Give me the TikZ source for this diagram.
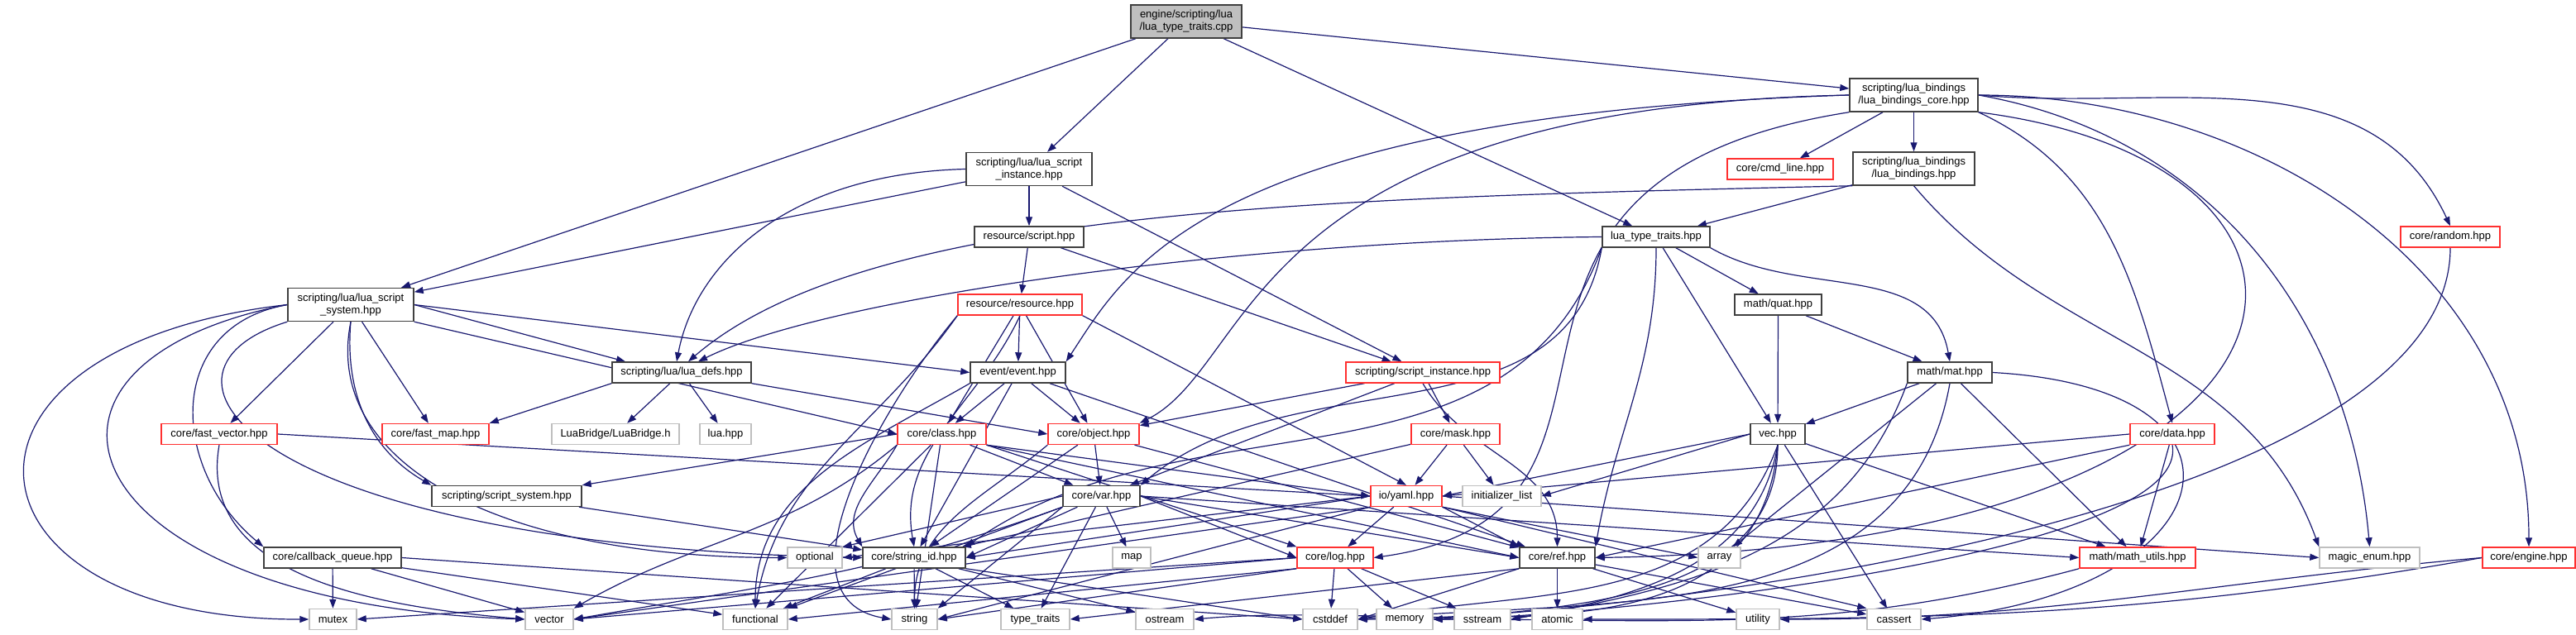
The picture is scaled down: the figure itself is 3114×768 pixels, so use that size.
\documentclass[tikz,border=0pt]{standalone}
\usepackage{fontspec}
\setmainfont{Liberation Sans}
\usetikzlibrary{arrows.meta}
\definecolor{edgec}{HTML}{191970}
\definecolor{grayb}{HTML}{BFBFBF}
\definecolor{darkb}{HTML}{404040}
\definecolor{redb}{HTML}{FF3030}
\newdimen\pxu \pxu=0.25pt
\pgfdeclarelayer{bg}
\pgfsetlayers{bg,main}
\begin{document}
\begin{tikzpicture}[x=0.25pt,y=0.25pt,
  box/.style={draw=darkb, line width=0.36pt, fill=white, inner sep=0pt, minimum height=25\pxu, align=center, font=\fontsize{3.25}{3.75}\selectfont},
  rb/.style={box, draw=redb},
  gb/.style={box, draw=grayb},
  two/.style={minimum height=40\pxu},
  e/.style={draw=edgec, line width=0.3pt, -{Triangle[length=2.75pt,width=2pt]}},
]
\useasboundingbox (0,0) rectangle (3114,-768);
% row 0-4
\node[box, two, fill=grayb, minimum width=134\pxu] (main) at (1434,-26) {engine/scripting/lua\\/lua\_type\_traits.cpp};
\node[box, two, minimum width=155\pxu] (lbc) at (2313.5,-115) {scripting/lua\_bindings\\/lua\_bindings\_core.hpp};
\node[box, two, minimum width=152\pxu] (lsi) at (1244,-204.5) {scripting/lua/lua\_script\\\_instance.hpp};
\node[rb, minimum width=128\pxu] (cmd) at (2152,-204.5) {core/cmd\_line.hpp};
\node[box, two, minimum width=147\pxu] (lb) at (2313.5,-204) {scripting/lua\_bindings\\/lua\_bindings.hpp};
\node[box, minimum width=132\pxu] (script) at (1244,-286.5) {resource/script.hpp};
\node[box, minimum width=130\pxu] (ltt) at (2002,-286.5) {lua\_type\_traits.hpp};
\node[rb, minimum width=120\pxu] (random) at (2962,-286.5) {core/random.hpp};
\node[box, two, minimum width=152\pxu] (lss) at (424,-368.5) {scripting/lua/lua\_script\\\_system.hpp};
\node[rb, minimum width=150\pxu] (resource) at (1233,-368.5) {resource/resource.hpp};
\node[box, minimum width=105\pxu] (quat) at (2149.5,-368.5) {math/quat.hpp};
% row 5
\node[box, minimum width=168\pxu] (defs) at (824,-450.5) {scripting/lua/lua\_defs.hpp};
\node[box, minimum width=115\pxu] (event) at (1230.5,-450.5) {event/event.hpp};
\node[rb, minimum width=186\pxu] (si) at (1720,-450.5) {scripting/script\_instance.hpp};
\node[box, minimum width=102\pxu] (mat) at (2357,-450.5) {math/mat.hpp};
% row 6
\node[rb, minimum width=140\pxu] (fvec) at (265,-525) {core/fast\_vector.hpp};
\node[rb, minimum width=129\pxu] (fmap) at (526.5,-525) {core/fast\_map.hpp};
\node[gb, minimum width=154\pxu] (luabridge) at (744,-525) {LuaBridge/LuaBridge.h};
\node[gb, minimum width=62\pxu] (luahpp) at (877,-525) {lua.hpp};
\node[rb, minimum width=107\pxu] (class) at (1138.5,-525) {core/class.hpp};
\node[rb, minimum width=110\pxu] (object) at (1322,-525) {core/object.hpp};
\node[rb, minimum width=107\pxu] (mask) at (1759.5,-525) {core/mask.hpp};
\node[box, minimum width=66\pxu] (vec) at (2149,-525) {vec.hpp};
\node[rb, minimum width=102\pxu] (data) at (2626,-525) {core/data.hpp};
% row 7
\node[box, minimum width=181\pxu] (ss) at (612.5,-600) {scripting/script\_system.hpp};
\node[box, minimum width=93\pxu] (var) at (1331.5,-600) {core/var.hpp};
\node[rb, minimum width=86\pxu] (yaml) at (1700,-600) {io/yaml.hpp};
\node[gb, minimum width=95\pxu] (il) at (1815.5,-600) {initializer\_list};
% row 8
\node[box, minimum width=166\pxu] (cq) at (402,-674.5) {core/callback\_queue.hpp};
\node[gb, minimum width=66\pxu] (optional) at (985,-674.5) {optional};
\node[box, minimum width=124\pxu] (sid) at (1105,-674.5) {core/string\_id.hpp};
\node[gb, minimum width=46\pxu] (map) at (1368,-674.5) {map};
\node[rb, minimum width=92\pxu] (log) at (1614,-674.5) {core/log.hpp};
\node[box, minimum width=91\pxu] (ref) at (1882.5,-674.5) {core/ref.hpp};
\node[gb, minimum width=51\pxu] (array) at (2078.5,-674.5) {array};
\node[rb, minimum width=140\pxu] (mu) at (2584,-674.5) {math/math\_utils.hpp};
\node[gb, minimum width=121\pxu] (me) at (2864.5,-674.5) {magic\_enum.hpp};
\node[rb, minimum width=112\pxu] (engine) at (3057,-674.5) {core/engine.hpp};
% row 9
\node[gb, minimum width=57\pxu] (mutex) at (402.5,-749) {mutex};
\node[gb, minimum width=58\pxu] (vector) at (664,-749) {vector};
\node[gb, minimum width=78\pxu] (functional) at (913,-749) {functional};
\node[gb, minimum width=55\pxu] (string) at (1105.5,-749) {string};
\node[gb, minimum width=83\pxu] (typetraits) at (1251.5,-749) {type\_traits};
\node[gb, minimum width=70\pxu] (ostream) at (1408,-749) {ostream};
\node[gb, minimum width=66\pxu] (cstddef) at (1608,-749) {cstddef};
\node[gb, minimum width=68\pxu] (memory) at (1698,-749) {memory};
\node[gb, minimum width=68\pxu] (sstream) at (1792,-749) {sstream};
\node[gb, minimum width=61\pxu] (atomic) at (1882.5,-749) {atomic};
\node[gb, minimum width=52\pxu] (utility) at (2125,-749) {utility};
\node[gb, minimum width=65\pxu] (cassert) at (2289.5,-749) {cassert};

\begin{pgfonlayer}{bg}
% main
\draw[e] (main) -- (lss);
\draw[e] (main) -- (lsi);
\draw[e] (main) -- (ltt);
\draw[e] (main) -- (lbc);
% lbc
\draw[e] (lbc) -- (cmd);
\draw[e] (lbc) -- (lb);
\draw[e] (lbc.east) to[out=-5,in=115] (random.north);
\draw[e] (lbc.east) to[out=0,in=90] (engine.north);
\draw[e] (lbc.east) to[out=-10,in=95] (me.north);
\draw[e] (lbc.south east) to[out=-25,in=105] (data.north);
\draw[e] (lbc.south east) .. controls (2900,-200) and (2850,-660) .. (ref.east);
\draw[e] (lbc.west) .. controls (1450,-140) and (1360,-330) .. (event.north east);
\draw[e] (lbc.west) .. controls (1500,-130) and (1520,-440) .. (object.north east);
\draw[e] (lbc.south west) .. controls (1700,-220) and (2050,-620) .. (log.east);
% lb
\draw[e] (lb) -- (ltt);
\draw[e] (lb.south west) .. controls (1600,-240) and (1050,-250) .. ([xshift=2pt]defs.north);
\draw[e] (lb.south) to[out=-50,in=110] (me.north west);
% lsi
\draw[e] (lsi) -- (lss);
\draw[e] (lsi.west) .. controls (950,-210) and (840,-320) .. ([xshift=-1.5pt]defs.north);
\draw[e] (lsi) -- (script);
\draw[e] (lsi) -- (si);
% script
\draw[e] (script) -- (resource);
\draw[e] (script) -- (si);
% ltt
\draw[e] (ltt.west) .. controls (1500,-290) and (1000,-360) .. ([xshift=5pt]defs.north);
\draw[e] (ltt) -- (quat);
\draw[e] (ltt.south east) to[out=-30,in=100] (mat.north);
\draw[e] (ltt) -- (vec);
\draw[e] (ltt.south) to[out=-90,in=80] (ref.north east);
\draw[e] (ltt.south west) to[out=-100,in=40] (var.north east);
\draw[e] (ltt.south west) to[out=-110,in=35] (sid.north east);
% lss
\draw[e] (lss) -- (fvec);
\draw[e] (lss) -- (fmap);
\draw[e] (lss.west) to[out=190,in=140,looseness=1.3] (cq.north west);
\draw[e] (lss.west) .. controls (-100,-420) and (-60,-750) .. (mutex.west);
\draw[e] (lss.west) .. controls (-20,-440) and (80,-730) .. (vector.west);
\draw[e] (lss.east) -- ([xshift=-17pt]defs.north);
\draw[e] (lss.east) -- (event.west);
\draw[e] (lss.south east) -- (class.west);
\draw[e] (lss.south) to[out=-95,in=150] (ss.north west);
\draw[e] (lss.south west) .. controls (150,-450) and (300,-660) .. (sid.west);
\draw[e] (lss.south) .. controls (390,-560) and (600,-674) .. (optional.west);
% defs
\draw[e] (defs) -- (luabridge);
\draw[e] (defs) -- (luahpp);
\draw[e] (defs.south west) -- (fmap.north east);
\draw[e] (defs.south east) -- (object.west);
% resource
\draw[e] (resource) -- (event);
\draw[e] (resource) -- (class);
\draw[e] (resource) -- (object);
\draw[e] (resource.south) to[out=-115,in=100] (sid.north);
\draw[e] (resource.south east) -- (yaml.north);
\draw[e] (resource.south west) to[out=-130,in=170] (string.west);
\draw[e] (resource.south west) to[out=-125,in=80] (functional.north);
% event
\draw[e] (event) -- (class);
\draw[e] (event) -- (object);
\draw[e] (event) -- (sid);
\draw[e] (event) -- (ref);
\draw[e] (event.south west) to[out=-150,in=90] (functional.north);
% si
\draw[e] (si) -- (object);
\draw[e] (si) -- (var);
\draw[e] (si) -- (mask);
\draw[e] (si.south) to[out=-60,in=90] (ref.north);
% mask
\draw[e] (mask) -- (yaml);
\draw[e] (mask) -- (il);
\draw[e] (mask) -- (sid);
% class
\draw[e] (class) -- (var);
\draw[e] (class.south west) to[out=-120,in=120] (sid.north west);
\draw[e] (class) -- (string);
\draw[e] (class) -- (functional);
\draw[e] (class.south west) to[out=-140,in=30] (vector.north east);
\draw[e] (class.south east) -- (yaml.west);
\draw[e] (class.south east) -- (ref.west);
\draw[e] (class.south east) -- (log.north west);
\draw[e] (class.west) -- (ss.north east);
% object
\draw[e] (object) -- (var);
\draw[e] (object) -- (sid);
\draw[e] (object) -- (ref);
\draw[e] (object.south west) to[out=-140,in=90] (string.north);
% var
\draw[e] (var) -- (sid.east);
\draw[e] (var) -- (map);
\draw[e] (var) -- (typetraits);
\draw[e] (var.south west) -- (string.north east);
\draw[e] (var.south west) -- (functional.north east);
\draw[e] (var.south west) to[out=-160,in=10] (vector.east);
\draw[e] (var.west) -- (optional.north east);
\draw[e] (var.east) -- (ref.west);
\draw[e] (var.east) -- (mu.west);
\draw[e] (var.east) -- (log.west);
% yaml
\draw[e] (yaml) -- (log);
\draw[e] (yaml.west) -- (sid.east);
\draw[e] (yaml.south west) -- (string.east);
\draw[e] (yaml.south west) -- (vector.east);
\draw[e] (yaml.south east) -- (array.west);
\draw[e] (yaml.south east) -- (cassert.north west);
\draw[e] (yaml.east) -- (me.west);
\draw[e] (yaml.south east) -- (ref.north west);
\draw[e] (yaml.west) -- (optional.east);
% log
\draw[e] (log) -- (cstddef);
\draw[e] (log) -- (memory);
\draw[e] (log) -- (sstream);
\draw[e] (log.south west) -- (string.east);
\draw[e] (log.west) -- (mutex.east);
\draw[e] (log.west) -- (vector.east);
\draw[e] (log.south west) -- (functional.east);
% ref
\draw[e] (ref) -- (atomic);
\draw[e] (ref) -- (utility);
\draw[e] (ref) -- (cassert);
\draw[e] (ref.south west) -- (cstddef.east);
\draw[e] (ref.south west) -- (typetraits.east);
% sid
\draw[e] (sid) -- (string);
\draw[e] (sid) -- (functional);
\draw[e] (sid) -- (typetraits);
\draw[e] (sid) -- (ostream);
\draw[e] (sid.south east) -- (cstddef.west);
% cq
\draw[e] (cq) -- (mutex);
\draw[e] (cq) -- (vector);
\draw[e] (cq) -- (functional);
\draw[e] (cq.east) -- (cstddef.west);
% fvec
\draw[e] (fvec.south) to[out=-100,in=175] (vector.west);
\draw[e] (fvec.east) -- (yaml.west);
% ss
\draw[e] (ss) -- (sid);
% vec
\draw[e] (vec.west) -- (yaml.east);
\draw[e] (vec.west) -- (il.east);
\draw[e] (vec) -- (mu);
\draw[e] (vec) -- (cassert);
\draw[e] (vec.south) to[out=-110,in=10] (cstddef.east);
\draw[e] (vec.south) to[out=-100,in=10] (sstream.east);
\draw[e] (vec.south) to[out=-95,in=5] (ostream.east);
\draw[e] (vec.south) to[out=-90,in=5] (memory.east);
% mat
\draw[e] (mat) -- (vec);
\draw[e] (mat) -- (array);
\draw[e] (mat) -- (mu);
\draw[e] (mat.east) .. controls (2760,-470) and (2690,-720) .. (cassert.east);
\draw[e] (mat.south west) to[out=-110,in=10] (sstream.east);
\draw[e] (mat.south) to[out=-100,in=5] (cstddef.east);
% quat
\draw[e] (quat) -- (vec);
\draw[e] (quat) -- (mat);
% data
\draw[e] (data.west) -- (yaml.east);
\draw[e] (data.south west) -- (ref.east);
\draw[e] (data) -- (mu);
\draw[e] (data.south) to[out=-80,in=0,looseness=0.4] (memory.east);
% random
\draw[e] (random.south) to[out=-90,in=0,looseness=0.6] (cstddef.east);
% engine
\draw[e] (engine.west) to[out=190,in=0] (atomic.east);
\draw[e] (engine.west) to[out=185,in=0] (utility.east);
% math utils
\draw[e] (mu.south west) to[out=-165,in=0] (memory.east);
\end{pgfonlayer}
\end{tikzpicture}
\end{document}
